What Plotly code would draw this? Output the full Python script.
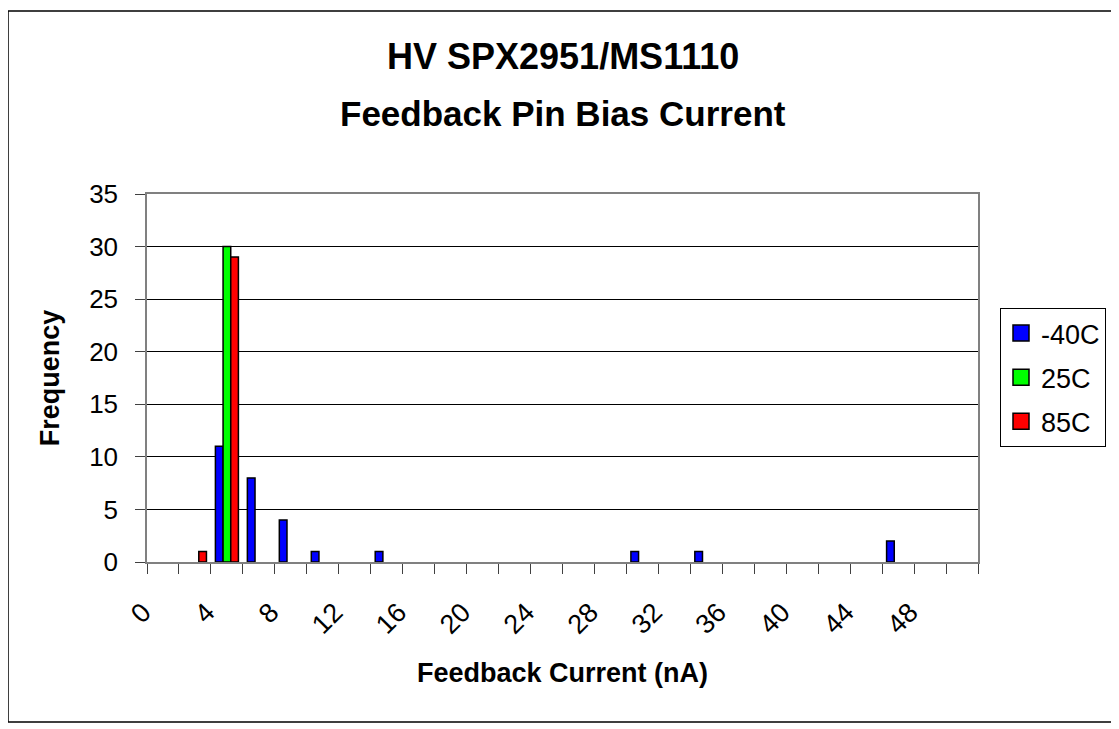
import plotly.graph_objects as go

# bins of feedback current (nA)
bins = [0, 2, 4, 6, 8, 10, 12, 14, 16, 18, 20, 22, 24, 26, 28, 30,
        32, 34, 36, 38, 40, 42, 44, 46, 48, 50]
tick_labels = [0, 4, 8, 12, 16, 20, 24, 28, 32, 36, 40, 44, 48]

# empty bins left as None so no bar is drawn
freq_m40 = [None, None, 11, 8, 4, 1, None, 1, None, None, None, None, None,
            None, None, 1, None, 1, None, None, None, None, None, 2, None, None]
freq_25 = [None, None, 30, None, None, None, None, None, None, None, None,
           None, None, None, None, None, None, None, None, None, None, None,
           None, None, None, None]
freq_85 = [None, 1, 29, None, None, None, None, None, None, None, None,
           None, None, None, None, None, None, None, None, None, None, None,
           None, None, None, None]

series = [("-40C", freq_m40, "#0000FF"),
          ("25C", freq_25, "#00FF00"),
          ("85C", freq_85, "#FF0000")]

title_lines = ["HV SPX2951/MS1110", "Feedback Pin Bias Current"]

FONT = "Liberation Sans, Arial, sans-serif"

fig = go.Figure()
for name, vals, col in series:
    fig.add_trace(go.Bar(
        x=bins, y=vals, name=name, legendgroup=name, showlegend=False,
        marker=dict(color=col, line=dict(color="black", width=1.5)),
    ))
    # legend-only swatch (bigger square than the bar legend icon)
    fig.add_trace(go.Scatter(
        x=[None], y=[None], mode="markers", name=name, legendgroup=name,
        marker=dict(symbol="square", size=16, color=col,
                    line=dict(color="black", width=1.5)),
    ))

# page is drawn with an 8px body margin, so lay out in window pixels
OFF = 8
WIN_W, WIN_H = 1119, 729
W, H = WIN_W - OFF, WIN_H - OFF
L, R, T, B = 147, 978, 194, 562   # plot area in window pixels
pw, ph = R - L, B - T


def px(x):
    return (x - L) / pw


def py(y):
    return (B - y) / ph


fig.update_layout(
    width=W, height=H, autosize=False,
    margin=dict(l=L - OFF, r=W - (R - OFF), t=T - OFF, b=H - (B - OFF)),
    paper_bgcolor="white", plot_bgcolor="white",
    font=dict(family=FONT, size=27, color="black"),
    barmode="group", bargap=0.28, bargroupgap=0,
    legend=dict(
        x=px(1000), y=py(308), xanchor="left", yanchor="top",
        bordercolor="black", borderwidth=1, bgcolor="white",
        font=dict(size=27, family=FONT), tracegroupgap=6,
        itemsizing="trace",
    ),
    shapes=[dict(type="rect", xref="paper", yref="paper",
                 x0=px(8), x1=px(1116), y0=py(722), y1=py(11),
                 line=dict(color="black", width=1.5), layer="below")],
    annotations=[
        dict(text="<b>%s</b>" % title_lines[0], xref="paper", yref="paper",
             x=0.5, y=py(56), xanchor="center", yanchor="middle",
             showarrow=False, font=dict(size=36, family=FONT)),
        dict(text="<b>%s</b>" % title_lines[1], xref="paper", yref="paper",
             x=0.5, y=py(114), xanchor="center", yanchor="middle",
             showarrow=False, font=dict(size=35, family=FONT)),
    ],
)

fig.update_xaxes(
    range=[-1, 51], tickmode="array", tickvals=tick_labels,
    ticktext=[str(v) for v in tick_labels], tickangle=-45,
    ticks="", showgrid=False, zeroline=False,
    showline=True, linecolor="#808080", linewidth=1.5, mirror=True,
    minor=dict(tickmode="linear", tick0=-1, dtick=2, ticks="outside",
               ticklen=10, tickcolor="#404040", showgrid=False),
    tickfont=dict(size=27), ticklabelstandoff=22, ticklabelshift=-20,
    title=dict(text="<b>Feedback Current (nA)</b>", standoff=24,
               font=dict(size=27)),
)
fig.update_yaxes(
    range=[0, 35], dtick=5, tick0=0,
    ticks="outside", ticklen=10, tickcolor="#404040",
    showgrid=True, gridcolor="black", gridwidth=1, zeroline=False,
    showline=True, linecolor="#808080", linewidth=1.5, mirror=True,
    tickfont=dict(size=26), ticklabelstandoff=12,
    title=dict(text="<b>Frequency</b>", standoff=22, font=dict(size=27)),
)

fig.write_html("out.html")
